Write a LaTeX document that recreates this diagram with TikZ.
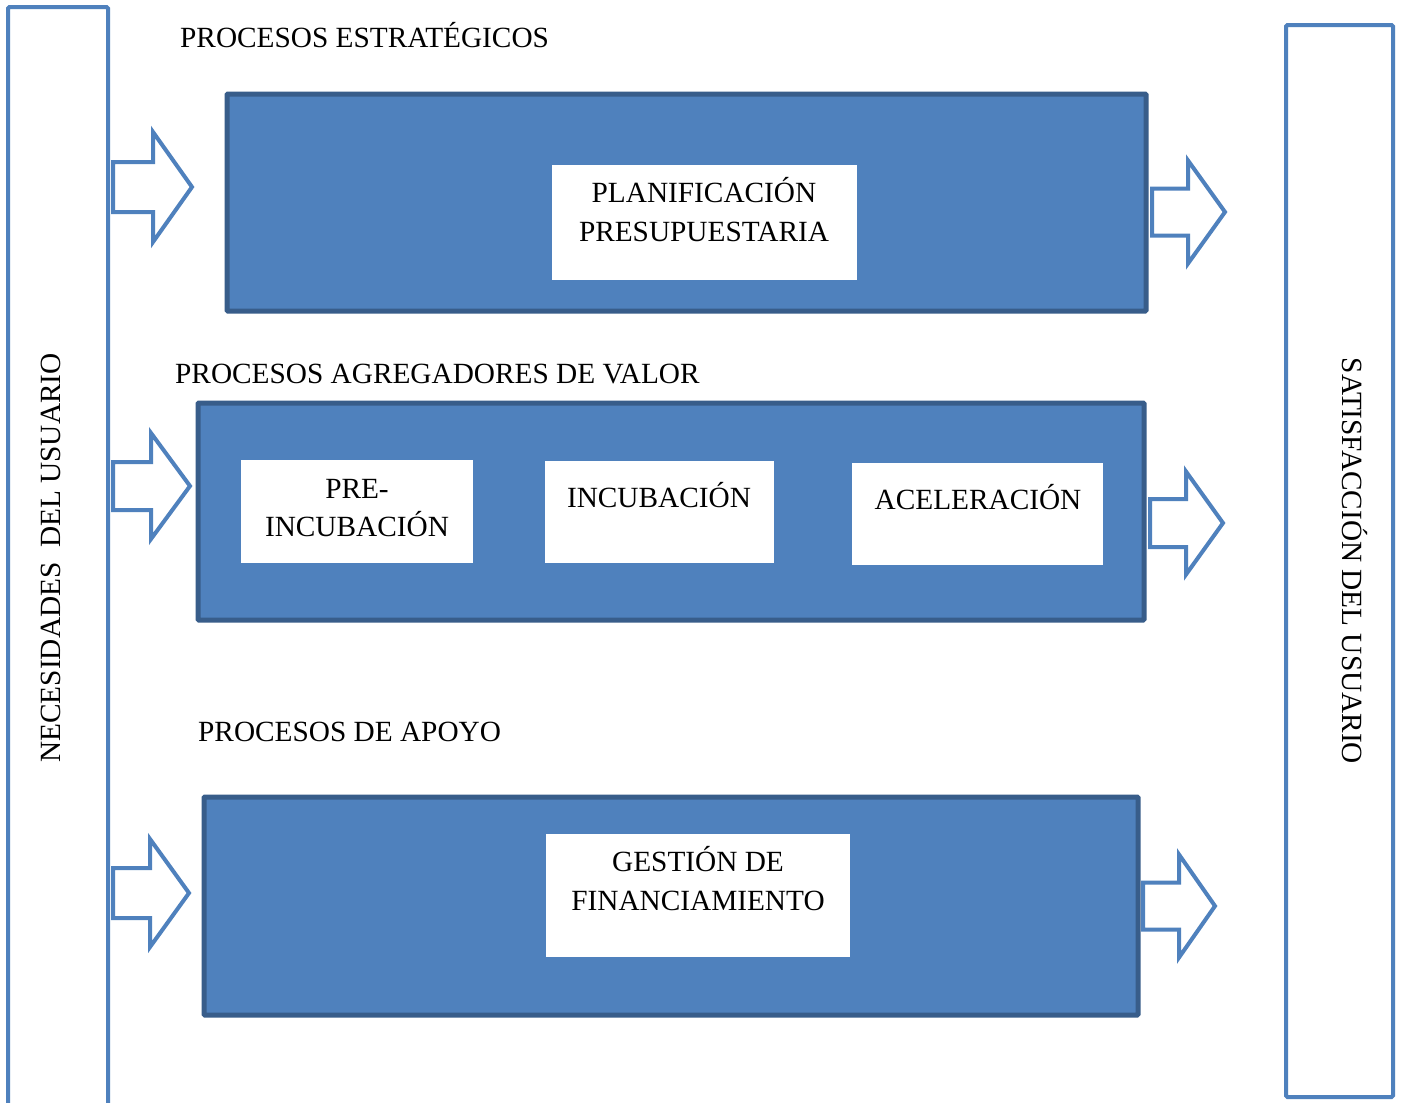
\documentclass[tikz,border=0pt]{standalone}
\usepackage{fontspec}
\setmainfont{Liberation Serif}
\begin{document}
\begin{tikzpicture}[x=1pt,y=-1pt,
  column/.style={draw=blueA,line width=4pt,fill=white,rounded corners=1.5pt},
  procbox/.style={draw=blueB,fill=blueA,line width=5pt,rounded corners=1pt},
  wbox/.style={fill=white},
  blockarrow/.style={draw=blueA,fill=white,line width=4pt,line join=miter},
  txt/.style={inner sep=0pt,font=\fontsize{29.3}{38.5}\selectfont,text=black},
]
\definecolor{blueA}{HTML}{4F81BD}
\definecolor{blueB}{HTML}{385D8A}
\useasboundingbox (0,0) rectangle (1403,1103);
\clip (0,0) rectangle (1403,1103);
\fill[white] (0,0) rectangle (1403,1103);

% side columns
\draw[column] (8,7) rectangle (108,1125);
\draw[column] (1286,25) rectangle (1393,1097);
\node[txt,rotate=90,anchor=base] (nec) at (60,558) {NECESIDADES\ \ DEL USUARIO};
\node[txt,rotate=-90,anchor=base] (sat) at (1342,561) {SATISFACCIÓN DEL USUARIO};

% headings
\node[txt,anchor=base west] (h1) at (180,47) {PROCESOS ESTRATÉGICOS};
\node[txt,anchor=base west] (h2) at (175,383) {PROCESOS AGREGADORES DE VALOR};
\node[txt,anchor=base west] (h3) at (198,741) {PROCESOS DE APOYO};

% process boxes
\draw[procbox] (227,94) rectangle (1146,311);
\draw[procbox] (198,403) rectangle (1144,620);
\draw[procbox] (204,797) rectangle (1138,1015);

% white boxes
\fill[wbox] (552,165) rectangle (857,280);
\fill[wbox] (241,460) rectangle (473,563);
\fill[wbox] (545,461) rectangle (774,563);
\fill[wbox] (852,463) rectangle (1103,565);
\fill[wbox] (546,834) rectangle (850,957);

\node[txt,anchor=base] (p1a) at (704,202) {PLANIFICACIÓN};
\node[txt,anchor=base] (p1b) at (704,241) {PRESUPUESTARIA};
\node[txt,anchor=base] (p2a) at (357,498) {PRE-};
\node[txt,anchor=base] (p2b) at (357,536) {INCUBACIÓN};
\node[txt,anchor=base] (p3) at (659,507) {INCUBACIÓN};
\node[txt,anchor=base] (p4) at (978,509) {ACELERACIÓN};
\node[txt,anchor=base] (p5a) at (698,871) {GESTIÓN DE};
\node[txt,anchor=base] (p5b) at (698,910) {FINANCIAMIENTO};

% block arrows: x0, xh, x1, yc, shaft half, head half
\newcommand{\blkarrow}[6]{%
  \draw[blockarrow] (#1,#4-#5) -- (#2,#4-#5) -- (#2,#4-#6) -- (#3,#4) -- (#2,#4+#6) -- (#2,#4+#5) -- (#1,#4+#5) -- cycle;}
\blkarrow{113}{153}{192}{187}{25}{55}
\blkarrow{113}{151}{190}{486}{24}{53}
\blkarrow{113}{150}{189}{893}{25}{54}
\blkarrow{1152}{1188}{1225}{212}{23.5}{51.5}
\blkarrow{1150}{1186}{1223}{523}{24}{51.5}
\blkarrow{1143}{1179}{1215}{906}{23.5}{51.5}
\end{tikzpicture}
\end{document}
